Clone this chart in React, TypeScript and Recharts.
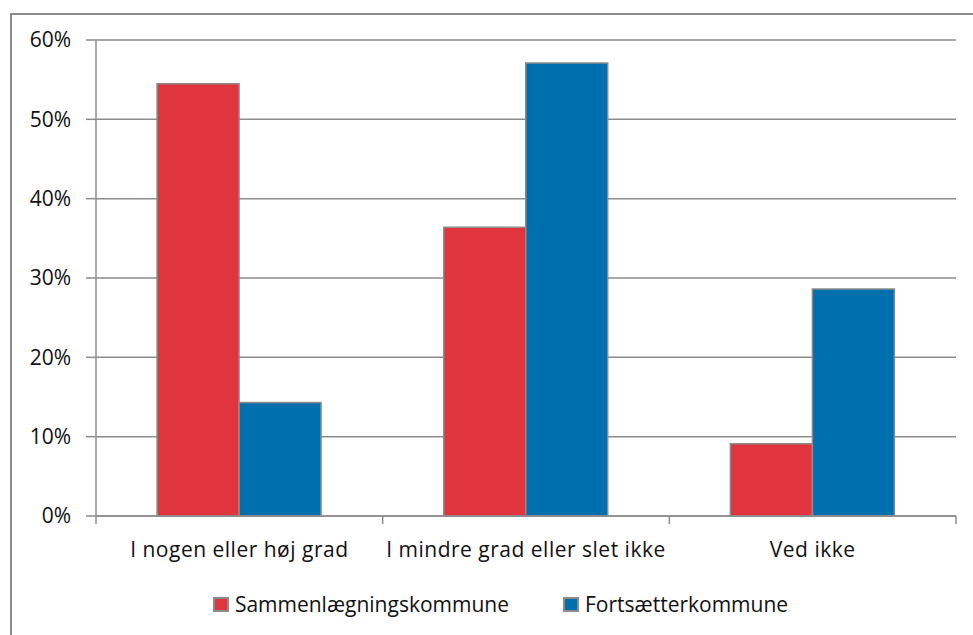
import { BarChart, Bar, XAxis, YAxis, CartesianGrid, Legend } from 'recharts'

const categories = ['I nogen eller høj grad', 'I mindre grad eller slet ikke', 'Ved ikke']
const sammenlaegning = [54.5, 36.4, 9.1]
const fortsaetter = [14.3, 57.1, 28.6]
const yTicks = [0, 10, 20, 30, 40, 50, 60]

const seriesNames = ['Sammenlægningskommune', 'Fortsætterkommune']
const RED = '#E0343E'
const BLUE = '#006FAE'
const GRAY = '#8C8C8C'
const FONT = '"Open Sans", Lato, sans-serif'

const data = categories.map((name, i) => ({
  name,
  a: sammenlaegning[i],
  b: fortsaetter[i],
}))

const X_TICK = 8
const X_MARGIN = 0

function CategoryTick(props: any) {
  const { x, y, payload, width, visibleTicksCount, index } = props
  const axisY = y - X_TICK - X_MARGIN
  const half = width / visibleTicksCount / 2
  return (
    <g>
      <line x1={x - half} x2={x - half} y1={axisY} y2={axisY + X_TICK} stroke={GRAY} strokeWidth={1.5} />
      {index === visibleTicksCount - 1 && (
        <line x1={x + half} x2={x + half} y1={axisY} y2={axisY + X_TICK} stroke={GRAY} strokeWidth={1.5} />
      )}
      <text x={x} y={axisY + 41} textAnchor="middle" fontFamily={FONT} fontSize={21} letterSpacing={0.5} fill="#111">
        {payload.value}
      </text>
    </g>
  )
}

function LegendContent() {
  const colors = [RED, BLUE]
  return (
    <div style={{ display: 'flex', justifyContent: 'center', gap: 54, fontFamily: FONT, fontSize: 21, color: '#111' }}>
      {seriesNames.map((n, i) => (
        <div key={n} style={{ display: 'flex', alignItems: 'center', gap: 6 }}>
          <span
            style={{
              display: 'inline-block',
              width: 16,
              height: 15,
              background: colors[i],
              border: `2px solid ${GRAY}`,
              boxSizing: 'border-box',
            }}
          />
          <span>{n}</span>
        </div>
      ))}
    </div>
  )
}

export default function App() {
  return (
    <div style={{ position: 'absolute', left: 0, top: 0, width: 973, height: 635, overflow: 'hidden', background: '#fff' }}>
      <div
        style={{
          position: 'absolute',
          left: 10,
          top: 13,
          width: 1000,
          height: 700,
          border: `2px solid ${GRAY}`,
          boxSizing: 'border-box',
        }}
      />
      <div style={{ position: 'absolute', left: 0, top: 0 }}>
        <BarChart
          width={973}
          height={635}
          data={data}
          margin={{ top: 40, right: 17, left: 0, bottom: 79 }}
          barCategoryGap="21.3%"
          barGap={0}
        >
          <CartesianGrid vertical={false} stroke={GRAY} strokeWidth={1.5} />
          <YAxis
            width={96}
            domain={[0, 60]}
            ticks={yTicks}
            interval={0}
            tickFormatter={(v) => `${v}%`}
            axisLine={{ stroke: GRAY, strokeWidth: 1.5 }}
            tickLine={{ stroke: GRAY, strokeWidth: 1.5 }}
            tickSize={10}
            tickMargin={15}
            tick={{ fill: '#111', fontSize: 21, fontFamily: FONT }}
          />
          <XAxis
            dataKey="name"
            height={40}
            interval={0}
            axisLine={{ stroke: GRAY, strokeWidth: 1.5 }}
            tickLine={false}
            tickSize={X_TICK}
            tickMargin={X_MARGIN}
            tick={<CategoryTick />}
          />
          <Legend
            layout="horizontal"
            verticalAlign="middle"
            align="center"
            content={<LegendContent />}
            wrapperStyle={{ top: 590, left: 14, width: 973 }}
          />
          <Bar dataKey="a" name={seriesNames[0]} fill={RED} stroke={GRAY} strokeWidth={1.5} isAnimationActive={false} />
          <Bar dataKey="b" name={seriesNames[1]} fill={BLUE} stroke={GRAY} strokeWidth={1.5} isAnimationActive={false} />
        </BarChart>
      </div>
    </div>
  )
}
